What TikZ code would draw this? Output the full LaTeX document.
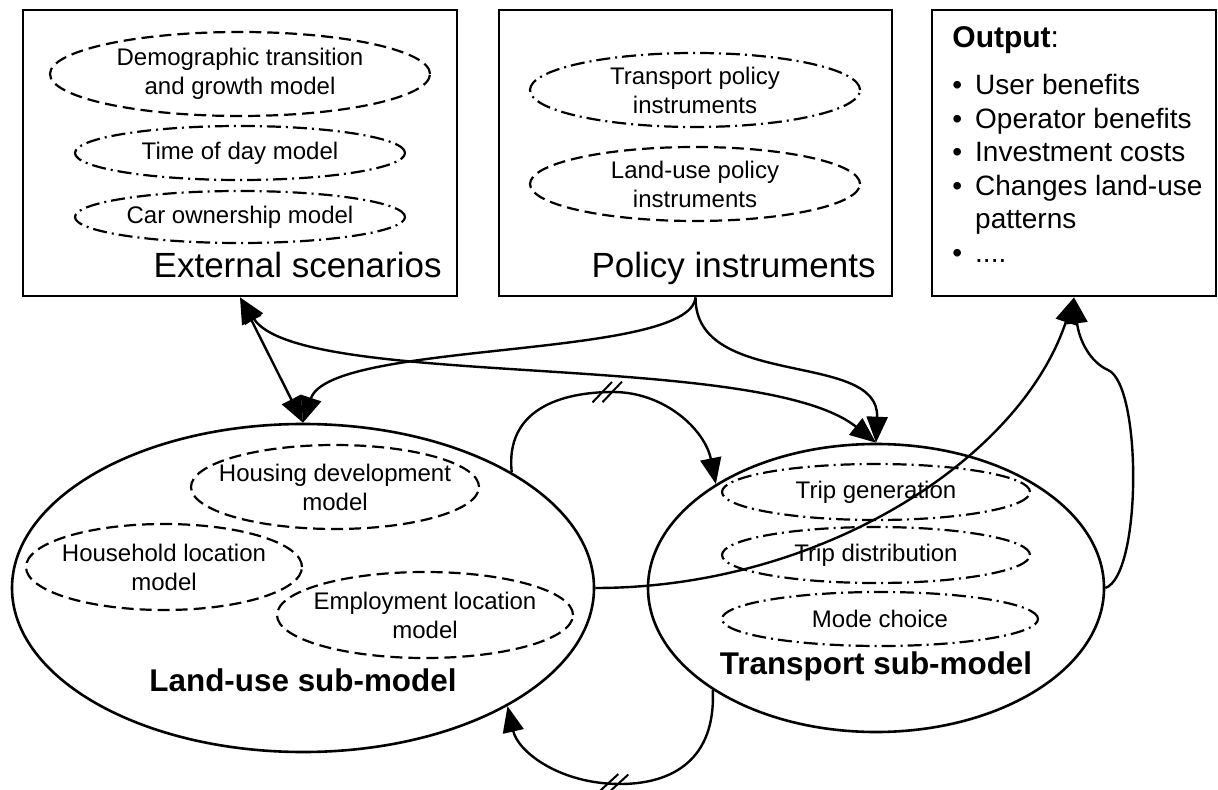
\documentclass[tikz,border=0pt]{standalone}
\usepackage{fontspec}
\setmainfont{Liberation Sans}
\usetikzlibrary{shapes.geometric,arrows.meta,decorations.markings}

\tikzset{
  panel/.style={draw,line width=1.4pt,inner sep=0pt,minimum height=143pt},
  submodel/.style={draw,ellipse,line width=1.3pt,inner sep=0pt},
  dashmodel/.style={draw,ellipse,line width=1.1pt,dash pattern=on 6pt off 3pt,
    inner xsep=-12pt,inner ysep=0pt,align=center,font=\fontsize{12}{14.5}\selectfont},
  dotmodel/.style={dashmodel,dash pattern=on 7pt off 2.5pt on 1pt off 2.5pt},
  biglabel/.style={anchor=base east,inner sep=0pt,font=\fontsize{17.5}{20}\selectfont},
  sublabel/.style={inner sep=0pt,font=\bfseries\fontsize{15.7}{18}\selectfont},
  link/.style={line width=1.2pt,-{Triangle[length=13pt,width=10.5pt]}},
  twoway/.style={line width=1.2pt,{Triangle[length=13pt,width=10.5pt]}-{Triangle[length=13pt,width=10.5pt]}},
  broken/.style={postaction={decorate},decoration={markings,mark=at position #1 with
    {\draw[-,line width=1pt] (-7.5pt,-5pt) -- (2.5pt,5pt) (-2.5pt,-5pt) -- (7.5pt,5pt);}}},
}

\begin{document}
\begin{tikzpicture}[x=0.5pt,y=-0.5pt]
\useasboundingbox (0,0) rectangle (1218,790);
% top boxes
\node[panel,minimum width=217pt] (ext) at (240,153) {};
\node[panel,minimum width=196.5pt] (pol) at (695.5,153) {};
\node[panel,minimum width=142pt] (out) at (1074,153) {};
\node[biglabel] (extlab) at (442,278) {External scenarios};
\node[biglabel] (pollab) at (876,278) {Policy instruments};
\node[dashmodel,minimum width=190pt,minimum height=42pt] (demo) at (240,74) {Demographic transition\\and growth model};
\node[dotmodel,minimum width=165pt,minimum height=27pt] (tod) at (240,153) {Time of day model};
\node[dotmodel,minimum width=165pt,minimum height=26pt] (car) at (240,217) {Car ownership model};
\node[dotmodel,minimum width=165pt,minimum height=37pt] (tpi) at (695,90) {Transport policy\\instruments};
\node[dashmodel,minimum width=165pt,minimum height=37pt] (lpi) at (695,184) {Land-use policy\\instruments};
\node[anchor=base west,inner sep=0pt,font=\fontsize{15}{18}\selectfont] (outlab) at (952,48) {\textbf{Output}:};
\node[anchor=base west,inner sep=0pt,font=\fontsize{14}{16.75}\selectfont] (outlist) at (952,95)
  {\begin{tabular}[t]{@{}l@{\hspace{6.5pt}}l@{}}
   \textbullet & User benefits\\
   \textbullet & Operator benefits\\
   \textbullet & Investment costs\\
   \textbullet & Changes land-use\\
               & patterns\\
   \textbullet & ....
   \end{tabular}};
% sub-models
\node[submodel,minimum width=291pt,minimum height=164pt] (lu) at (303,588) {};
\node[dashmodel,minimum width=144pt,minimum height=42pt] (hous) at (335,487) {Housing development\\model};
\node[dashmodel,minimum width=138pt,minimum height=43pt] (hh) at (164,567) {Household location\\model};
\node[dashmodel,minimum width=148pt,minimum height=43pt] (emp) at (425,615) {Employment location\\model};
\node[sublabel] (lulab) at (303,680) {Land-use sub-model};
\node[submodel,minimum width=228pt,minimum height=144pt] (tr) at (876,588) {};
\node[dotmodel,minimum width=154pt,minimum height=28pt] (gen) at (876,492) {Trip generation};
\node[dotmodel,minimum width=154pt,minimum height=28pt] (dist) at (876,555) {Trip distribution};
\node[dotmodel,minimum width=158pt,minimum height=27pt] (mode) at (880,619) {Mode choice};
\node[sublabel] (trlab) at (876,666) {Transport sub-model};
% connectors
\draw[twoway] (ext.south) -- (lu.north);
\draw[twoway] (ext.south) .. controls (300,390) and (760,350) .. (tr.north);
\draw[link] (pol.south) .. controls (690,360) and (330,340) .. (lu.north);
\draw[link] (pol.south) .. controls (695,390) and (880,350) .. (tr.north);
\draw[link,broken=0.48] (lu.29.5) .. controls (505,410) and (560,392) .. (613,392)
  .. controls (665,392) and (705,430) .. (tr.147);
\draw[link,broken=0.53] (tr.212) .. controls (716,760) and (672,784) .. (620,784)
  .. controls (560,784) and (518,752) .. (lu.-30);
\draw[link] (lu.east) .. controls (820,588) and (1020,460) .. (out.south);
\draw[link] (tr.east) .. controls (1142,575) and (1142,385) .. (1108,370)
  .. controls (1090,362) and (1079,340) .. (out.south);
\end{tikzpicture}
\end{document}
